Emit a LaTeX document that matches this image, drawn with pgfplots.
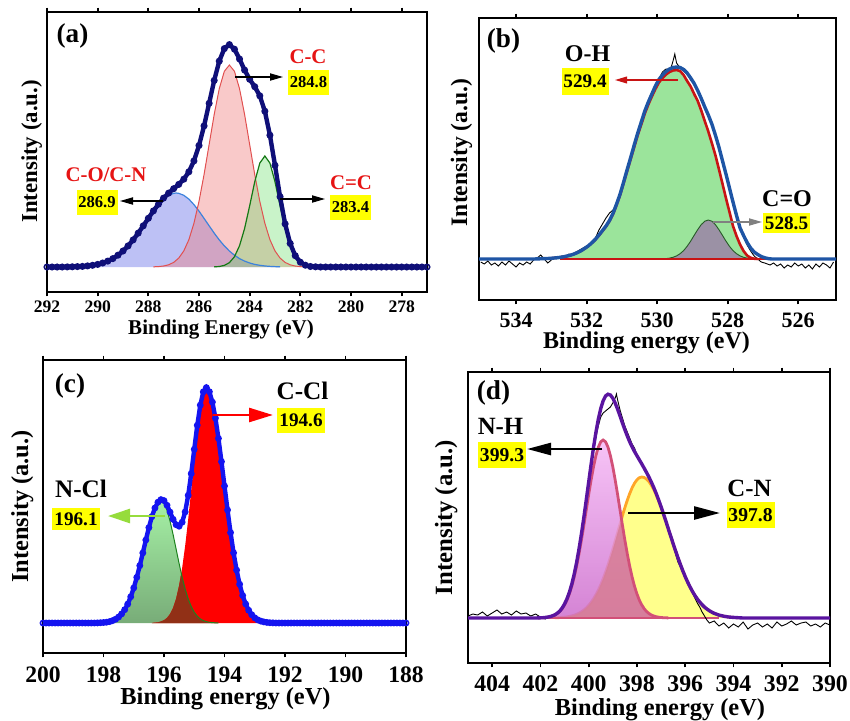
\documentclass[border=0pt]{standalone}
\usepackage{fontspec}
\setmainfont{Liberation Serif}
\usepackage{pgfplots}
\usepackage{pgfplotstable}
\pgfplotsset{compat=1.18}
\usetikzlibrary{arrows.meta}
\newcommand\fs[1]{\fontsize{#1}{#1}\selectfont\bfseries}
\definecolor{navyc}{RGB}{15,15,120}
\definecolor{ared}{RGB}{240,120,120}
\definecolor{aredE}{RGB}{225,80,80}
\definecolor{agreen}{RGB}{100,220,100}
\definecolor{agreenE}{RGB}{20,120,20}
\definecolor{ablue}{RGB}{90,100,230}
\definecolor{ablueE}{RGB}{60,130,220}
\definecolor{ttred}{RGB}{230,20,20}
\definecolor{bgreen}{RGB}{155,228,155}
\definecolor{bgray}{RGB}{155,145,165}
\definecolor{bgrayE}{RGB}{40,90,40}
\definecolor{bred}{RGB}{200,20,20}
\definecolor{bblue}{RGB}{30,85,165}
\definecolor{ctop}{RGB}{165,240,165}
\definecolor{cbot}{RGB}{120,172,120}
\definecolor{cover}{RGB}{145,48,22}
\definecolor{cgreenE}{RGB}{30,130,30}
\definecolor{cblue}{RGB}{20,20,240}
\definecolor{carrowg}{RGB}{150,220,60}
\definecolor{dtop}{RGB}{245,185,245}
\definecolor{dbot}{RGB}{205,110,205}
\definecolor{dyel}{RGB}{255,255,140}
\definecolor{dover}{RGB}{215,125,150}
\definecolor{drose}{RGB}{210,80,120}
\definecolor{dorange}{RGB}{255,165,40}
\definecolor{dpurple}{RGB}{90,20,160}
\definecolor{ygold}{RGB}{255,255,0}

% ---------------- panel (a) ----------------
\pgfplotstableread{
x y
292.0 0
291.8 0
291.6 0
291.4 0
291.2 0.1
291.0 0.2
290.8 0.4
290.6 0.6
290.4 1.1
290.2 1.7
290.0 2.6
289.8 4.0
289.6 5.9
289.4 8.4
289.2 11.8
289.0 16.0
288.8 21.1
288.6 27.1
288.4 33.9
288.2 41.2
288.0 48.7
287.8 56.1
287.6 62.8
287.4 68.9
287.2 73.9
287.0 78.3
286.8 82.6
286.6 87.8
286.4 95.2
286.2 106.1
286.0 121.5
285.8 141.1
285.6 163.7
285.4 186.6
285.2 205.9
285.0 218.4
284.8 222.4
284.6 217.8
284.4 208.0
284.2 196.9
284.0 187.7
283.8 180.3
283.6 171.2
283.4 155.8
283.2 131.8
283.0 101.7
282.8 70.3
282.6 43.1
282.4 23.5
282.2 11.3
282.0 4.8
281.8 1.8
281.6 0.5
281.4 0.2
281.2 0
281.0 0
280.8 0
280.6 0
280.4 0
280.2 0
280.0 0
279.8 0
279.6 0
279.4 0
279.2 0
279.0 0
278.8 0
278.6 0
278.4 0
278.2 0
278.0 0
277.8 0
277.6 0
277.4 0
277.2 0
277.0 0
}\EA
\pgfplotstableread{
x y
287.8 0.2
287.6 0.4
287.4 1.0
287.2 2.2
287.0 4.6
286.8 8.9
286.6 16.1
286.4 27.3
286.2 43.7
286.0 65.6
285.8 92.5
285.6 122.5
285.4 152.5
285.2 178.3
285.0 195.7
284.8 202
284.6 195.7
284.4 178.3
284.2 152.5
284.0 122.5
283.8 92.5
283.6 65.6
283.4 43.7
283.2 27.3
283.0 16.1
282.8 8.9
282.6 4.6
282.4 2.2
282.2 1.0
282.0 0.4
281.8 0.2
}\RA
\pgfplotstableread{
x y
285.4 0.15
285.2 0.5
285.0 1.6
284.8 4.35
284.6 10.3
284.4 21.3
284.2 38.5
284.0 61.2
283.8 85.2
283.6 103.9
283.4 111
283.2 103.9
283.0 85.2
282.8 61.2
282.6 38.5
282.4 21.3
282.2 10.3
282.0 4.35
281.8 1.6
281.6 0.5
281.4 0.15
}\GA
\pgfplotstableread{
x y
291.0 0.2
290.8 0.38
290.6 0.64
290.4 1.05
290.2 1.7
290.0 2.6
289.8 4.0
289.6 5.9
289.4 8.4
289.2 11.8
289.0 16.0
288.8 21.1
288.6 27.1
288.4 33.9
288.2 41.2
288.0 48.6
287.8 55.9
287.6 62.4
287.4 67.9
287.2 71.7
287.0 73.7
286.9 74
286.8 73.7
286.6 71.7
286.4 67.9
286.2 62.4
286.0 55.9
285.8 48.6
285.6 41.2
285.4 33.9
285.2 27.1
285.0 21.1
284.8 16.0
284.6 11.8
284.4 8.4
284.2 5.9
284.0 4.0
283.8 2.6
283.6 1.7
283.4 1.05
283.2 0.64
283.0 0.38
282.8 0.2
}\BA

% ---------------- panel (b) ----------------
\pgfplotstableread{
x y
533.25 0.3
533.05 0.6
532.85 1.2
532.65 2.2
532.45 3.8
532.35 5
532.25 6.5
532.15 8.3
532.05 10.5
531.95 13
531.85 16
531.75 19.5
531.65 23.5
531.55 28
531.45 32.5
531.35 38
531.25 45
531.15 54
531.05 64
530.95 76
530.85 88
530.75 100
530.65 112
530.55 124
530.45 134.5
530.35 145.5
530.25 154.5
530.15 162.5
530.05 170
529.95 176.5
529.85 181
529.75 184.5
529.65 187
529.55 188.5
529.45 189
529.35 188
529.25 184
529.15 178
529.05 172.5
528.95 165
528.85 158
528.75 148.5
528.65 138
528.55 127.5
528.45 116
528.35 104
528.25 90
528.15 75.5
528.05 61
527.95 47
527.85 33
527.75 23
527.65 14.5
527.55 8
527.45 3.5
527.35 1.2
527.25 0.3
527.15 0
}\RB
\pgfplotstableread{
x y
529.85 0.2
529.75 0.4
529.65 0.9
529.55 1.7
529.45 3.1
529.35 5.3
529.25 8.4
529.15 12.7
529.05 17.9
528.95 23.7
528.85 29.4
528.75 34.4
528.65 37.8
528.55 39
528.45 37.8
528.35 34.4
528.25 29.4
528.15 23.7
528.05 17.9
527.95 12.7
527.85 8.4
527.75 5.3
527.65 3.1
527.55 1.7
527.45 0.9
527.35 0.4
527.25 0.2
}\GB
\pgfplotstableread{
x y
535.05 0
533.5 0
533.25 0.3
533.05 0.6
532.85 1.2
532.65 2.2
532.45 3.9
532.35 5.1
532.25 6.6
532.15 8.4
532.05 10.7
531.95 13.2
531.85 16.3
531.75 19.8
531.65 24
531.55 28.5
531.45 33
531.35 38.6
531.25 45.7
531.15 55
531.05 65
530.95 77
530.85 89.5
530.75 101.5
530.65 114
530.55 126
530.45 137
530.35 148
530.25 157
530.15 165
530.05 173
529.95 179.5
529.85 184
529.75 187.5
529.65 190
529.55 191.5
529.45 192
529.35 191.5
529.25 189.5
529.15 186
529.05 181
528.95 175.5
528.85 168.5
528.75 160.5
528.65 152
528.55 144
528.45 135
528.35 124
528.25 112
528.15 98.5
528.05 85
527.95 71
527.85 57
527.75 43.5
527.65 31
527.55 23.5
527.45 16.5
527.35 11
527.25 7
527.15 4.5
527.05 2.5
526.95 1.2
526.85 0.4
526.75 0
524.93 0
}\EB
\pgfplotstableread{
x y
535.0 -3
534.9 -5
534.8 -2
534.7 -6
534.6 -4
534.5 -7
534.4 -3
534.3 -6
534.2 -2
534.1 -5
534.0 -8
533.9 -4
533.8 -6
533.7 -3
533.6 -5
533.5 -1
533.4 1
533.3 4
533.2 0
533.1 -4
533.0 -1
532.9 2
532.8 1
532.7 3
532.6 2
532.5 5
532.45 4
532.35 6
532.25 8
532.15 10
532.05 12
531.95 14
531.85 17
531.75 21
531.65 29
531.55 35
531.45 41
531.35 46
531.25 49
531.15 56
531.05 66
530.95 77
530.85 88
530.75 101
530.65 113
530.55 127
530.45 138
530.35 147
530.25 156
530.15 166
530.05 172
529.95 180
529.85 187
529.75 190
529.65 190
529.6 192
529.55 198
529.5 205
529.45 196
529.35 191
529.25 188
529.15 185
529.05 179
528.95 175
528.85 168
528.75 160
528.65 152
528.55 143
528.45 134
528.35 124
528.25 112
528.15 99
528.05 85
527.95 71
527.85 57
527.75 44
527.65 31
527.55 22
527.45 14
527.35 8
527.25 3
527.15 0
527.05 -3
526.95 -4
526.8 -6
526.7 -4
526.6 -7
526.5 -5
526.4 -9
526.3 -6
526.2 -8
526.1 -4
526.0 -7
525.9 -5
525.8 -9
525.7 -6
525.6 -10
525.5 -5
525.4 -8
525.3 -4
525.2 -6
525.1 -9
525.0 -3
}\WB

% ---------------- panel (c) ----------------
\pgfplotstableread{
x y
200.0 0
199.9 0
199.8 0
199.7 0
199.6 0
199.5 0
199.4 0
199.3 0
199.2 0
199.1 0
199.0 0
198.9 0
198.8 0
198.7 0
198.6 0
198.5 0
198.4 0
198.3 0
198.2 0.1
198.1 0.3
198.0 0.5
197.9 0.8
197.8 1.4
197.7 2.4
197.6 3.8
197.5 6.0
197.4 9.1
197.3 13.3
197.2 18.9
197.1 26.2
197.0 35.1
196.9 45.6
196.8 57.4
196.7 70.1
196.6 83.0
196.5 95.4
196.4 106.4
196.3 115.0
196.2 120.8
196.1 123.4
196.0 122.4
195.9 117.7
195.8 110.9
195.7 103.7
195.6 98.3
195.5 96.8
195.4 100.8
195.3 111.1
195.2 127.7
195.1 149.4
195.0 173.7
194.9 197.7
194.8 217.9
194.7 231.2
194.6 235.4
194.5 231.3
194.4 220.9
194.3 204.9
194.2 184.6
194.1 161.4
194.0 137.0
193.9 113.0
193.8 90.4
193.7 70.2
193.6 52.9
193.5 38.8
193.4 27.5
193.3 19.0
193.2 12.7
193.1 8.3
193.0 5.2
192.9 3.2
192.8 1.9
192.7 1.1
192.6 0.6
192.5 0.3
192.4 0.15
192.3 0
192.2 0
192.1 0
192.0 0
191.9 0
191.8 0
191.7 0
191.6 0
191.5 0
191.4 0
191.3 0
191.2 0
191.1 0
191.0 0
190.9 0
190.8 0
190.7 0
190.6 0
190.5 0
190.4 0
190.3 0
190.2 0
190.1 0
190.0 0
189.9 0
189.8 0
189.7 0
189.6 0
189.5 0
189.4 0
189.3 0
189.2 0
189.1 0
189.0 0
188.9 0
188.8 0
188.7 0
188.6 0
188.5 0
188.4 0
188.3 0
188.2 0
188.1 0
188.0 0
}\EC
\pgfplotstableread{
x y
196.4 0.15
196.3 0.3
196.2 0.7
196.1 1.4
196.0 2.8
195.9 5.1
195.8 9.0
195.7 15.1
195.6 24.3
195.5 37.4
195.4 55.0
195.3 77.2
195.2 103.6
195.1 132.9
195.0 162.9
194.9 190.9
194.8 213.8
194.7 228.8
194.6 234
194.5 230.6
194.4 220.5
194.3 204.7
194.2 184.5
194.1 161.4
194.0 137.0
193.9 113.0
193.8 90.4
193.7 70.2
193.6 52.9
193.5 38.8
193.4 27.5
193.3 19.0
193.2 12.7
193.1 8.3
193.0 5.2
192.9 3.2
192.8 1.9
192.7 1.1
192.6 0.6
192.5 0.3
192.4 0.15
}\RC
\pgfplotstableread{
x y
198.2 0.1
198.1 0.3
198.0 0.5
197.9 0.8
197.8 1.4
197.7 2.4
197.6 3.8
197.5 6.0
197.4 9.1
197.3 13.3
197.2 18.9
197.1 26.2
197.0 35.1
196.9 45.6
196.8 57.4
196.7 70.1
196.6 83.0
196.5 95.4
196.4 106.2
196.3 114.7
196.2 120.1
196.1 122
196.0 119.6
195.9 112.6
195.8 101.9
195.7 88.6
195.6 74.0
195.5 59.4
195.4 45.8
195.3 33.9
195.2 24.1
195.1 16.5
195.0 10.8
194.9 6.8
194.8 4.1
194.7 2.4
194.6 1.4
194.5 0.7
194.4 0.4
194.3 0.2
194.2 0.1
}\GC
\pgfplotstableread{
x y
196.4 0.15
196.2 0.7
196.0 2.8
195.9 5.1
195.8 9.0
195.7 15.1
195.6 24.3
195.5 37.4
195.43 49.8
195.4 45.8
195.3 33.9
195.2 24.1
195.1 16.5
195.0 10.8
194.9 6.8
194.8 4.1
194.7 2.4
194.6 1.4
194.5 0.7
194.4 0.4
194.2 0.1
}\OC

% ---------------- panel (d) ----------------
\pgfplotstableread{
x y
402.1 0.1
402.0 0.2
401.9 0.3
401.8 0.5
401.7 0.8
401.6 1.3
401.5 2.0
401.4 3.0
401.3 4.5
401.2 6.5
401.1 9.3
401.0 13.1
400.9 17.9
400.8 24.1
400.7 31.7
400.6 41.0
400.5 51.8
400.4 64.2
400.3 77.9
400.2 92.6
400.1 108.0
400.0 123.3
399.9 137.9
399.8 151.2
399.7 162.4
399.6 170.9
399.5 176.2
399.4 178
399.3 176.2
399.2 170.9
399.1 162.4
399.0 151.2
398.9 137.9
398.8 123.3
398.7 108.0
398.6 92.6
398.5 77.9
398.4 64.2
398.3 51.8
398.2 41.0
398.1 31.7
398.0 24.1
397.9 17.9
397.8 13.1
397.7 9.3
397.6 6.5
397.5 4.5
397.4 3.0
397.3 2.0
397.2 1.3
397.1 0.8
397.0 0.5
396.9 0.3
396.8 0.2
396.7 0.1
}\ND
\pgfplotstableread{
x y
401.4 0.2
401.2 0.44
401.0 0.85
400.9 1.15
400.8 1.6
400.7 2.1
400.6 2.8
400.5 3.7
400.4 4.8
400.3 6.2
400.2 7.9
400.1 10.0
400.0 12.5
399.9 15.6
399.8 19.1
399.7 23.2
399.6 27.9
399.5 33.2
399.4 39.2
399.3 45.8
399.2 52.9
399.1 60.6
399.0 68.6
398.9 77.0
398.8 85.5
398.7 94.0
398.6 102.4
398.5 110.4
398.4 117.8
398.3 124.4
398.2 130.2
398.1 134.8
398.0 138.2
397.9 140.3
397.8 141
397.7 140.5
397.6 138.9
397.5 136.3
397.4 132.7
397.3 128.3
397.2 123.1
397.1 117.2
397.0 110.7
396.9 103.8
396.8 96.6
396.7 89.2
396.6 81.8
396.5 74.4
396.4 67.2
396.3 60.2
396.2 53.6
396.1 47.3
396.0 41.4
395.9 36.0
395.8 31.1
395.7 26.6
395.6 22.6
395.5 19.1
395.4 16.0
395.3 13.3
395.2 10.9
395.1 9.0
395.0 7.3
394.9 5.9
394.8 4.7
394.6 2.9
394.4 1.8
394.2 1.0
394.0 0.6
393.8 0.3
}\CD
\pgfplotstableread{
x y
401.4 0.2
401.0 0.85
400.6 2.8
400.4 4.8
400.2 7.9
400.0 12.5
399.8 19.1
399.6 27.9
399.4 39.2
399.2 52.9
399.0 68.6
398.9 77.0
398.8 85.5
398.7 94.0
398.64 99
398.6 92.6
398.5 77.9
398.4 64.2
398.3 51.8
398.2 41.0
398.1 31.7
398.0 24.1
397.9 17.9
397.8 13.1
397.7 9.3
397.6 6.5
397.5 4.5
397.4 3.0
397.2 1.3
397.0 0.5
396.8 0.2
}\OD
\pgfplotstableread{
x y
405.0 0
402.2 0
402.0 0.2
401.9 0.3
401.8 0.55
401.7 0.9
401.6 1.4
401.5 2.2
401.4 3.2
401.3 4.8
401.2 6.9
401.1 9.9
401.0 14.0
400.9 19.1
400.8 25.7
400.7 33.8
400.6 43.8
400.5 55.5
400.4 69.0
400.3 84.1
400.2 100.5
400.1 118.0
400.0 135.8
399.9 153.5
399.8 170.3
399.7 185.6
399.6 198.8
399.5 209.4
399.4 217.2
399.3 222.0
399.2 223.8
399.1 223.0
399.0 219.8
398.9 214.9
398.8 208.8
398.7 202.0
398.6 195.0
398.5 188.3
398.4 182.0
398.3 176.2
398.2 171.2
398.1 166.5
398.0 162.3
397.9 158.2
397.8 154.1
397.7 149.8
397.6 145.4
397.5 140.8
397.4 135.7
397.3 130.3
397.2 124.4
397.1 118.0
397.0 111.2
396.9 104.1
396.8 96.8
396.7 89.2
396.6 81.8
396.5 74.4
396.4 67.2
396.3 60.2
396.2 53.6
396.1 47.3
396.0 41.4
395.9 36.0
395.8 31.1
395.7 26.6
395.6 22.6
395.5 19.1
395.4 16.0
395.3 13.3
395.2 10.9
395.1 9.0
395.0 7.3
394.9 5.9
394.8 4.7
394.6 2.9
394.4 1.8
394.2 1.0
394.0 0.6
393.8 0.3
393.6 0
390.0 0
}\ED
\pgfplotstableread{
x y
405.0 2
404.8 4
404.6 3
404.4 6
404.2 2
404.0 5
403.8 8
403.6 4
403.4 6
403.2 3
403.0 7
402.8 4
402.6 5
402.4 2
402.2 4
402.0 1
401.8 -1
401.6 2
401.4 4
401.2 6
401.1 9
401.0 14
400.9 20
400.8 27
400.7 35
400.6 45
400.5 57
400.4 70
400.3 85
400.2 101
400.1 117
400.0 134
399.9 152
399.8 168
399.7 181
399.6 192
399.5 201
399.4 205
399.3 207
399.2 209
399.1 211
399.0 215
398.9 220
398.85 224
398.8 218
398.7 208
398.6 200
398.5 192
398.4 186
398.3 180
398.2 174
398.1 170
398.0 163
397.9 159
397.8 155
397.7 150
397.6 146
397.5 141
397.4 135
397.3 130
397.2 125
397.1 119
397.0 112
396.9 105
396.8 98
396.7 90
396.6 82
396.5 74
396.4 64
396.3 56
396.2 51
396.1 45
396.0 40
395.9 34
395.8 30
395.7 25
395.6 20
395.5 15
395.4 11
395.3 6
395.2 2
395.1 -2
395.0 -5
394.8 -3
394.6 -8
394.4 -5
394.2 -10
394.0 -6
393.8 -9
393.6 -4
393.4 -11
393.2 -7
393.0 -5
392.8 -9
392.6 -6
392.4 -10
392.2 -4
392.0 -8
391.8 -6
391.6 -3
391.4 -7
391.2 -5
391.0 -4
390.8 -8
390.6 -6
390.4 -9
390.2 -5
390.0 -7
}\WD

\pgfplotsset{xps/.style={scale only axis, anchor=south west, x dir=reverse,
  ytick=\empty, axis line style={line width=1.2pt},
  xtick align=outside, major tick length=2.2pt,
  every tick/.style={black, line width=0.9pt},
  xticklabels={}}}

\begin{document}
\begin{tikzpicture}
\useasboundingbox (0,0) rectangle (425pt,360pt);

% ---------- (a) ----------
\begin{axis}[xps, at={(23.5pt,214pt)}, width=190pt, height=140pt,
  xmin=277, xmax=292, ymin=-25, ymax=255, xtick={278,280,...,292}]
\addplot[draw=none, fill=ablue, fill opacity=0.4] table {\BA} \closedcycle;
\addplot[draw=none, fill=ared, fill opacity=0.4] table {\RA} \closedcycle;
\addplot[draw=none, fill=agreen, fill opacity=0.35] table {\GA} \closedcycle;
\addplot[ablueE, line width=0.6pt] table {\BA};
\addplot[aredE, line width=0.5pt] table {\RA};
\addplot[agreenE, line width=0.6pt] table {\GA};
\addplot[navyc, line width=2.2pt, mark=o, mark size=1.35pt,
  mark options={line width=0.8pt, fill=white!55!navyc, draw=navyc}] table {\EA};
\end{axis}

% ---------- (b) ----------
\begin{axis}[xps, at={(239.5pt,210pt)}, width=178.5pt, height=141pt,
  xmin=524.93, xmax=535.05, ymin=-41, ymax=241, xtick={526,528,...,534}]
\addplot[draw=none, fill=bgreen] table {\RB} \closedcycle;
\addplot[draw=none, fill=bgray] table {\GB} \closedcycle;
\addplot[bgrayE, line width=0.45pt] table {\GB};
\addplot[black, line width=0.45pt] table {\WB};
\addplot[bred, line width=1.3pt] table {\RB};
\addplot[bred, line width=1.3pt] coordinates {(532.75,0) (526.3,0)};
\addplot[bblue, line width=1.7pt] table {\EB};
\end{axis}

% ---------- (c) ----------
\begin{axis}[xps, at={(21.5pt,33.5pt)}, width=181.5pt, height=146.5pt,
  xmin=188, xmax=200, ymin=-30, ymax=263, xtick={188,190,...,200}]
\addplot[draw=none, top color=ctop, bottom color=cbot] table {\GC} \closedcycle;
\addplot[draw=none, fill=red] table {\RC} \closedcycle;
\addplot[draw=none, fill=cover] table {\OC} \closedcycle;
\addplot[cgreenE, line width=0.5pt] table {\GC};
\addplot[cblue, line width=2.2pt, mark=o, mark size=1.3pt,
  mark options={line width=0.8pt, fill=white!65!cblue, draw=cblue}] table {\EC};
\end{axis}

% ---------- (d) ----------
\begin{axis}[xps, at={(234pt,28.5pt)}, width=181pt, height=145.5pt,
  xmin=390, xmax=405, ymin=-45, ymax=246, xtick={390,392,...,404}]
\addplot[draw=none, fill=dyel] table {\CD} \closedcycle;
\addplot[dorange, line width=1.4pt] table {\CD};
\addplot[draw=none, top color=dtop, bottom color=dbot, fill opacity=0.85] table {\ND} \closedcycle;
\addplot[draw=none, fill=dover, fill opacity=0.85] table {\OD} \closedcycle;
\addplot[drose, line width=1.4pt] table {\ND};
\addplot[drose, line width=1.4pt] coordinates {(402.2,0) (394.6,0)};
\addplot[black, line width=0.45pt] table {\WD};
\addplot[dpurple, line width=1.7pt] table {\ED};
\end{axis}

% ---------- text (pixel coordinates of the 850x720 reference) ----------
\begin{scope}[x=0.5pt, y=-0.5pt, yshift=360pt]
% tick labels
\foreach \p/\t in {47/292,97.7/290,148.3/288,199/286,249.7/284,300.3/282,351/280,401.7/278}
  \node[font=\fs{8.8}, anchor=base, inner sep=0] at (\p,312) {\t};
\foreach \p/\t in {516/534,586.6/532,657.1/530,727.7/528,798.2/526}
  \node[font=\fs{11}, anchor=base, inner sep=0] at (\p,327.5) {\t};
\foreach \p/\t in {43/200,103.5/198,164/196,224.5/194,285/192,345.5/190,406/188}
  \node[font=\fs{11.8}, anchor=base, inner sep=0] at (\p,682.5) {\t};
\foreach \p/\t in {492.1/404,540.4/402,588.7/400,636.9/398,685.2/396,733.5/394,781.7/392,830/390}
  \node[font=\fs{11.9}, anchor=base, inner sep=0] at (\p,691.5) {\t};
% (a)
\node[font=\fs{13.6}, inner sep=0] at (72.5,36) {(a)};
\node[font=\fs{10.4}, text=ttred, inner sep=0] at (308,57) {C-C};
\node[fill=ygold, font=\fs{8.3}, inner sep=0, minimum width=20.5pt, minimum height=12.5pt] at (308.5,82.5) {284.8};
\draw[-{Triangle[length=6.5pt,width=3.6pt]}, line width=0.6pt] (235,77) -- (283,77);
\node[font=\fs{10.4}, text=ttred, inner sep=0] at (106,175) {C-O/C-N};
\node[fill=ygold, font=\fs{8.3}, inner sep=0, minimum width=20.5pt, minimum height=12.5pt] at (97,202.5) {286.9};
\draw[-{Triangle[length=6.5pt,width=3.6pt]}, line width=0.6pt] (163,201) -- (120,201);
\node[font=\fs{10.4}, text=ttred, inner sep=0] at (351,182.5) {C=C};
\node[fill=ygold, font=\fs{8.3}, inner sep=0, minimum width=20.5pt, minimum height=12.5pt] at (350.5,207.5) {283.4};
\draw[-{Triangle[length=6.5pt,width=3.6pt]}, line width=0.6pt] (280,199) -- (325,199);
\node[font=\fs{10.5}, anchor=base, inner sep=0] at (221,334) {Binding Energy (eV)};
\node[font=\fs{11.4}, rotate=90, anchor=base, inner sep=0] at (37,151.5) {Intensity (a.u.)};
% (b)
\node[font=\fs{13.6}, inner sep=0] at (503.5,41) {(b)};
\node[font=\fs{12}, inner sep=0] at (587.5,53.5) {O-H};
\node[fill=ygold, font=\fs{9.6}, inner sep=0, minimum width=23.5pt, minimum height=13.5pt] at (585,81.5) {529.4};
\draw[-{Triangle[length=6pt,width=3.4pt]}, line width=0.6pt, bred] (678,80) -- (615,80);
\node[font=\fs{12}, inner sep=0] at (787,198.5) {C=O};
\node[fill=ygold, font=\fs{9.6}, inner sep=0, minimum width=23.5pt, minimum height=10pt] at (786.5,223) {528.5};
\draw[-{Triangle[length=6.5pt,width=3.6pt]}, line width=0.6pt, gray] (713,222) -- (762,222);
\node[font=\fs{12}, anchor=base, inner sep=0] at (646.5,348) {Binding energy (eV)};
\node[font=\fs{11.8}, rotate=90, anchor=base, inner sep=0] at (467,152.5) {Intensity (a.u.)};
% (c)
\node[font=\fs{13.6}, inner sep=0] at (70,386) {(c)};
\node[font=\fs{12.6}, inner sep=0] at (302.5,390.5) {C-Cl};
\node[fill=ygold, font=\fs{9.6}, inner sep=0, minimum width=24pt, minimum height=12.5pt] at (301,420.5) {194.6};
\draw[-{Triangle[length=12pt,width=7pt]}, line width=1.3pt, red] (213,415) -- (273,415);
\node[font=\fs{12.6}, inner sep=0] at (81,488.5) {N-Cl};
\node[fill=ygold, font=\fs{9.6}, inner sep=0, minimum width=24pt, minimum height=11pt] at (76,519) {196.1};
\draw[-{Triangle[length=11pt,width=7pt]}, line width=1.3pt, carrowg] (165,516) -- (108,516);
\node[font=\fs{12.2}, anchor=base, inner sep=0] at (225.5,704) {Binding energy (eV)};
\node[font=\fs{12.2}, rotate=90, anchor=base, inner sep=0] at (28,506.5) {Intensity (a.u.)};
% (d)
\node[font=\fs{13.6}, inner sep=0] at (493.5,393) {(d)};
\node[font=\fs{12.4}, inner sep=0] at (500.5,426.5) {N-H};
\node[fill=ygold, font=\fs{9.8}, inner sep=0, minimum width=24pt, minimum height=13pt] at (502,455) {399.3};
\draw[-{Triangle[length=12pt,width=6pt]}, line width=1.3pt] (602,449) -- (527,449);
\node[font=\fs{12.4}, inner sep=0] at (749.5,488.5) {C-N};
\node[fill=ygold, font=\fs{9.8}, inner sep=0, minimum width=24pt, minimum height=13pt] at (750.5,515) {397.8};
\draw[-{Triangle[length=13pt,width=6.5pt]}, line width=1.3pt] (628,513) -- (720,513);
\node[font=\fs{12.2}, anchor=base, inner sep=0] at (660,715) {Binding energy (eV)};
\node[font=\fs{12.4}, rotate=90, anchor=base, inner sep=0] at (452,517.5) {Intensity (a.u.)};
\end{scope}
\end{tikzpicture}
\end{document}
